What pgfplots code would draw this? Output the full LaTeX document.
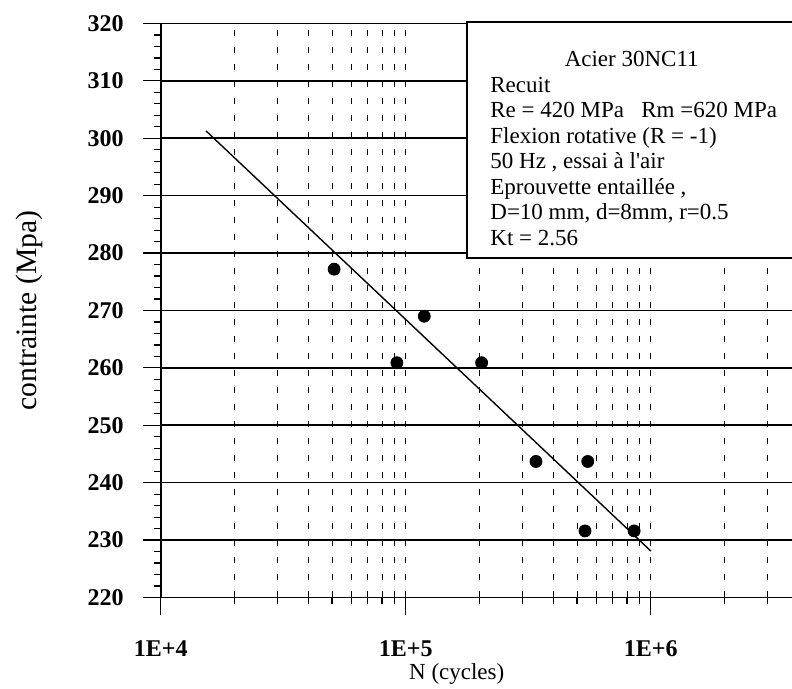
\documentclass[border=0pt]{standalone}
\usepackage{fontspec}
\setmainfont{Liberation Serif}
\usepackage{pgfplots}
\pgfplotsset{compat=1.18}
\begin{document}
\begin{tikzpicture}
\begin{axis}[
  name=ax,
  at={(0,0)}, anchor=south west,
  scale only axis, width=315.65pt, height=287pt,
  xmode=log, xmin=1e4, xmax=3.77e6, ymin=220, ymax=320,
  axis lines*=left,
  axis line style={-, line width=0.9pt, black},
  xtick={1e4,1e5,1e6}, xticklabels={1E+4,1E+5,1E+6},
  minor xtick={2e4,3e4,4e4,5e4,6e4,7e4,8e4,9e4,2e5,3e5,4e5,5e5,6e5,7e5,8e5,9e5,2e6,3e6},
  ytick={220,230,240,250,260,270,280,290,300,310,320},
  minor ytick={222,224,226,228,232,234,236,238,242,244,246,248,252,254,256,258,262,264,266,268,272,274,276,278,282,284,286,288,292,294,296,298,302,304,306,308,312,314,316,318},
  xmajorgrids, xminorgrids, ymajorgrids,
  major x grid style={black, line width=0.5pt, dash pattern=on 3pt off 5.5pt},
  minor x grid style={black, line width=0.45pt, dash pattern=on 3pt off 5.5pt},
  major y grid style={black, solid, line width=0.8pt},
  tick align=outside,
  major tick length=9pt, minor tick length=3.5pt,
  tick style={black, line width=0.6pt},
  /pgf/number format/assume math mode=true,
  ticklabel style={font=\fontsize{12}{14}\selectfont\bfseries},
  xticklabel style={anchor=base, yshift=-20.6pt},
  yticklabel style={anchor=east, xshift=-6pt},
  xlabel={N (cycles)},
  ylabel={contrainte (Mpa)},
  xlabel style={at={(axis description cs:0.4689,-0.1437)}, anchor=base, font=\fontsize{11.5}{13}\selectfont},
  ylabel style={at={(axis description cs:-0.1975,0.5)}, rotate=0, anchor=base, font=\fontsize{14.8}{17}\selectfont},
  clip=false,
]
\addplot[black, line width=0.7pt] coordinates {(1.53e4,301.3) (1e6,228.1)};
\addplot[only marks, mark=*, mark size=3pt, black] coordinates {
  (5.1e4,277.2) (9.2e4,260.9) (1.19e5,269.0) (2.04e5,260.9)
  (3.40e5,243.7) (5.53e5,243.7) (5.39e5,231.6) (8.55e5,231.6)
};
\draw[line width=0.9pt, fill=white] (rel axis cs:0.4847,1.003) rectangle (rel axis cs:1.1,0.591);
\begin{scope}[every node/.style={font=\fontsize{11.5}{13}\selectfont, inner sep=0pt}]
\node[anchor=base] at (rel axis cs:0.7461,0.9247) {Acier 30NC11};
\node[anchor=base west] at (rel axis cs:0.5216,0.8803) {Recuit};
\node[anchor=base west] at (rel axis cs:0.5216,0.8359) {Re = 420 MPa\hspace{0.75em}Rm =620 MPa};
\node[anchor=base west] at (rel axis cs:0.5216,0.7914) {Flexion rotative (R = -1)};
\node[anchor=base west] at (rel axis cs:0.5216,0.7470) {50 Hz , essai à l\textquotesingle air};
\node[anchor=base west] at (rel axis cs:0.5216,0.7026) {Eprouvette entaillée ,};
\node[anchor=base west] at (rel axis cs:0.5216,0.6582) {D=10 mm, d=8mm, r=0.5};
\node[anchor=base west] at (rel axis cs:0.5216,0.6137) {Kt = 2.56};
\end{scope}
\end{axis}
\pgfresetboundingbox
\path[use as bounding box] (-80.35pt,-45.75pt) rectangle (315.65pt,298.75pt);
\end{tikzpicture}
\end{document}
